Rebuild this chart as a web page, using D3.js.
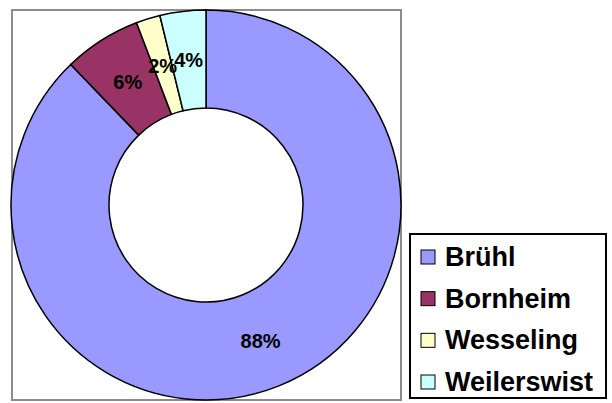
<!DOCTYPE html>
<html>
<head>
<meta charset="utf-8">
<script src="https://cdn.jsdelivr.net/npm/d3@7"></script>
<style>
  body { margin: 0; background: #fff; }
  svg { display: block; }
</style>
</head>
<body>
<script>
"use strict";
(function(){
    // data
    const towns = ["Brühl", "Bornheim", "Wesseling", "Weilerswist"]
    const shares = [87.8, 6.4, 2.0, 3.8]
    const labels = ["88%", "6%", "2%", "4%"]
    const fills = ["#9999FF", "#993366", "#FFFFCC", "#CCFFFF"]

    const measurements = {
        width: 612,
        height: 403
    }

    const svgContainer = d3.select("body").append("svg")
        .attr("width", measurements.width)
        .attr("height", measurements.height)

    // plot area frame
    svgContainer.append("rect")
        .attr("x", 12).attr("y", 10)
        .attr("width", 389).attr("height", 390)
        .attr("fill", "none")
        .attr("stroke", "#8c8c8c")
        .attr("stroke-width", 2)

    const cx = 206, cy = 205
    const outer = 195, inner = 97

    const pie = d3.pie().sort(null).value(d => d.share)
    const arc = d3.arc().innerRadius(inner).outerRadius(outer)
    const labelArc = d3.arc().innerRadius((inner + outer) / 2).outerRadius((inner + outer) / 2)

    const rows = towns.map((t, i) => ({ town: t, share: shares[i], label: labels[i], fill: fills[i] }))
    const arcs = pie(rows)

    const g = svgContainer.append("g").attr("transform", `translate(${cx},${cy})`)

    g.selectAll("path")
        .data(arcs)
        .enter()
        .append("path")
        .attr("d", arc)
        .attr("fill", d => d.data.fill)
        .attr("stroke", "#000")
        .attr("stroke-width", 1.5)

    g.selectAll("text")
        .data(arcs)
        .enter()
        .append("text")
        .attr("transform", d => `translate(${labelArc.centroid(d)})`)
        .attr("text-anchor", "middle")
        .attr("dy", "0.36em")
        .style("font-family", "Liberation Sans, Arial, sans-serif")
        .style("font-weight", "bold")
        .style("font-size", "20px")
        .text(d => d.data.label)

    // legend
    const legend = svgContainer.append("g")
    legend.append("rect")
        .attr("x", 410).attr("y", 234)
        .attr("width", 196).attr("height", 164)
        .attr("fill", "#fff")
        .attr("stroke", "#000")
        .attr("stroke-width", 2)

    const scaleY = d3.scalePoint()
        .domain(towns)
        .range([257, 382])

    const items = legend.selectAll(".item")
        .data(rows)
        .enter()
        .append("g")
        .attr("transform", d => `translate(0,${scaleY(d.town)})`)

    items.append("rect")
        .attr("x", 421).attr("y", -7)
        .attr("width", 14).attr("height", 14)
        .attr("fill", d => d.fill)
        .attr("stroke", "#000")
        .attr("stroke-width", 1)

    items.append("text")
        .attr("x", 445)
        .attr("y", 9)
        .style("font-family", "Liberation Sans, Arial, sans-serif")
        .style("font-weight", "bold")
        .style("font-size", "27px")
        .text(d => d.town)
})()
</script>
</body>
</html>
